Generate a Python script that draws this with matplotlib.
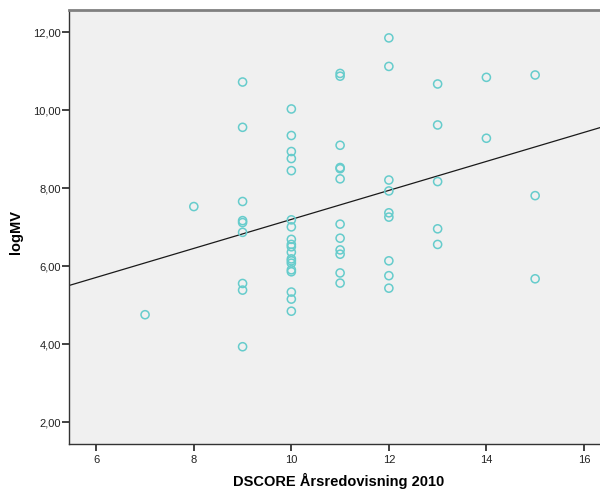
import numpy as np
import matplotlib
matplotlib.use("Agg")
import matplotlib.pyplot as plt
from matplotlib.ticker import FuncFormatter

plt.rcParams["font.family"] = ["Liberation Sans", "DejaVu Sans"]

# DSCORE per group and the logMV observations in each group
dscore_levels = [7, 8, 9, 10, 11, 12, 13, 14, 15]
logmv_by_level = [
    [4.76],
    [7.53],
    [10.72, 9.56, 7.66, 7.17, 7.12, 6.87, 5.56, 5.39, 3.94],
    [10.03, 9.35, 8.94, 8.76, 8.45, 7.19, 7.01, 6.69, 6.56, 6.50,
     6.36, 6.19, 6.14, 6.08, 5.91, 5.86, 5.34, 5.16, 4.85],
    [10.94, 10.87, 9.10, 8.53, 8.50, 8.24, 7.08, 6.72, 6.42, 6.31, 5.83, 5.57],
    [11.85, 11.12, 8.21, 7.93, 7.37, 7.26, 6.14, 5.76, 5.44],
    [10.67, 9.62, 8.17, 6.96, 6.56],
    [10.84, 9.28],
    [10.90, 7.81, 5.68],
]
x_ticks = [6, 8, 10, 12, 14, 16]
y_ticks = [2, 4, 6, 8, 10, 12]

x = np.concatenate([[d] * len(v) for d, v in zip(dscore_levels, logmv_by_level)])
y = np.concatenate(logmv_by_level)

fig = plt.figure(figsize=(6.0, 4.9), dpi=100)
ax = fig.add_axes([0.115, 0.094, 0.885, 0.886])
ax.set_facecolor("#f0f0f0")

ax.scatter(x, y, s=34, facecolors="none", edgecolors="#66cccc",
           linewidths=1.1, zorder=3)

# linear fit over the whole x range
xmin, xmax = 5.44, 16.33
slope, icept = np.polyfit(x, y, 1)
xl = np.array([xmin, xmax])
ax.plot(xl, icept + slope * xl, color="#1a1a1a", lw=0.9, zorder=2)

ax.set_xlim(xmin, xmax)
ax.set_ylim(1.45, 12.57)
ax.set_xticks(x_ticks)
ax.set_yticks(y_ticks)
ax.yaxis.set_major_formatter(FuncFormatter(lambda v, p: f"{v:.2f}".replace(".", ",")))

for side in ["left", "bottom"]:
    ax.spines[side].set_color("#333333")
    ax.spines[side].set_linewidth(1.0)
ax.spines["top"].set_color("#808080")
ax.spines["top"].set_linewidth(2.0)
ax.spines["right"].set_visible(False)

ax.tick_params(direction="out", length=5, width=1.3, color="#333333",
               labelsize=8, labelcolor="#222222")
ax.tick_params(axis="y", pad=1)
ax.tick_params(axis="x", pad=3)

fig.text(0.565, (490 - 481) / 490, "DSCORE Årsredovisning 2010",
         fontsize=10.5, fontweight="bold", ha="center", va="center")
fig.text(16 / 600, (490 - 232) / 490, "logMV", fontsize=10.5,
         fontweight="bold", rotation=90, ha="center", va="center")

fig.savefig("out.png", dpi=100)
